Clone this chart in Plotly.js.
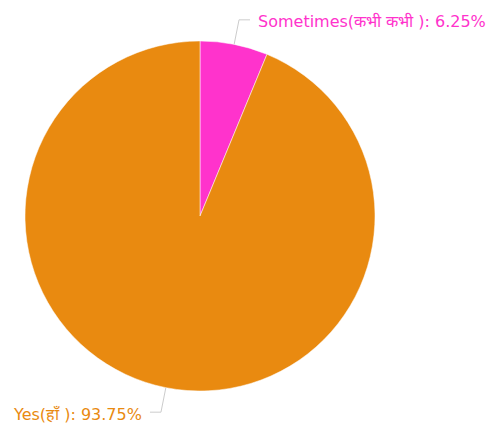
<!DOCTYPE html>
<html><head><meta charset="utf-8">
<script src="https://cdn.plot.ly/plotly-3.0.1.min.js"></script>
<style>html,body{margin:0;padding:0;background:#fff}</style>
</head><body>
<div id="chart" style="width:492px;height:433px"></div>
<script>
const labels = ["Sometimes(कभी कभी )", "Yes(हाँ )"];
const values = [6.25, 93.75];
const colors = ["#FF33CC", "#E98A10"];

const W = 492, H = 433;
const cx = 200, cy = 216, R = 175, R2 = 200, HSEG = 11, GAP = 6;

const total = values.reduce((a, b) => a + b, 0);
const shapes = [], annotations = [];
let acc = 0;
values.forEach((v, i) => {
  const mid = (acc + v / 2) / total * 2 * Math.PI;
  acc += v;
  const s = Math.sin(mid), c = Math.cos(mid);
  const x1 = cx + R * s, y1 = cy - R * c;
  const x2 = cx + R2 * s, y2 = cy - R2 * c;
  const dir = s >= 0 ? 1 : -1;
  const x3 = x2 + dir * HSEG;
  const px = x => x / W, py = y => 1 - y / H;
  shapes.push({
    type: "path", xref: "paper", yref: "paper",
    path: `M ${px(x1)} ${py(y1)} L ${px(x2)} ${py(y2)} L ${px(x3)} ${py(y2)}`,
    line: { color: "#cccccc", width: 1 }
  });
  annotations.push({
    xref: "paper", yref: "paper", x: px(x3 + dir * GAP), y: py(y2 + 2),
    xanchor: dir > 0 ? "left" : "right", yanchor: "middle",
    text: labels[i] + ": " + values[i].toFixed(2) + "%",
    showarrow: false,
    font: { family: "DejaVu Sans, sans-serif", size: 16, color: colors[i] }
  });
});

const data = [{
  type: "pie",
  labels: labels,
  values: values,
  sort: false,
  direction: "clockwise",
  rotation: 0,
  textinfo: "none",
  hoverinfo: "label+percent",
  marker: { colors: colors, line: { color: "#ffffff", width: 0.5 } },
  domain: { x: [(cx - R) / W, (cx + R) / W], y: [1 - (cy + R) / H, 1 - (cy - R) / H] }
}];

const layout = {
  width: W, height: H,
  margin: { l: 0, r: 0, t: 0, b: 0 },
  showlegend: false,
  paper_bgcolor: "#ffffff",
  shapes: shapes,
  annotations: annotations
};

Plotly.newPlot("chart", data, layout, { displayModeBar: false, staticPlot: true });
</script>
</body></html>
